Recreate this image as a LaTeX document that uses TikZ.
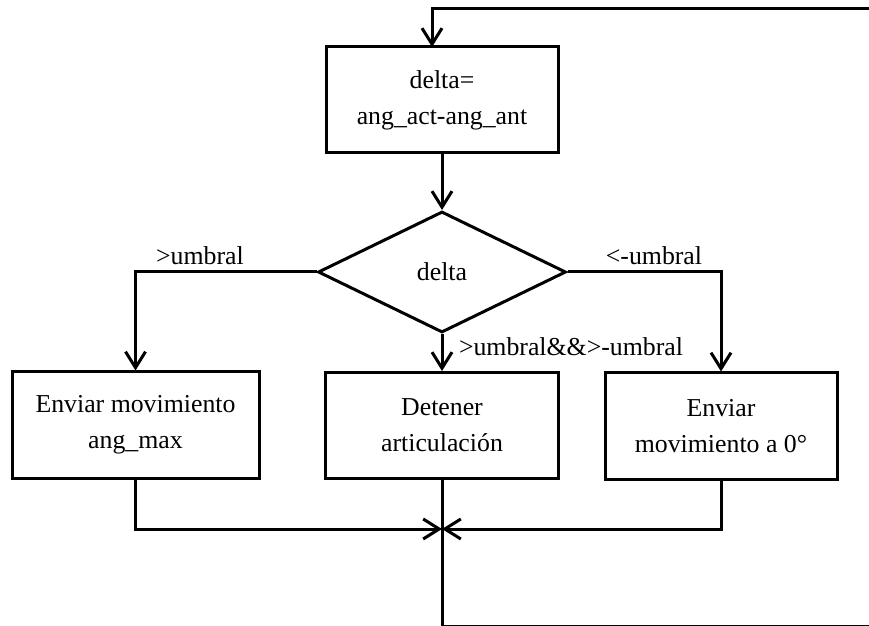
\documentclass[tikz,border=0pt]{standalone}
\usepackage{fontspec}
\setmainfont{Liberation Serif}
\usetikzlibrary{shapes.geometric,arrows.meta}

\tikzset{
  box/.style={draw, align=center, inner sep=0pt, minimum height=53pt},
  cond/.style={draw, diamond, inner sep=0pt, minimum width=124pt, minimum height=60.5pt},
  >={Straight Barb[length=8pt,width=10pt]}
}

\begin{document}
\begin{tikzpicture}[x=0.5pt, y=-0.5pt, line width=1.5pt,
  every node/.style={font=\fontsize{12.9}{18}\selectfont}]
  \useasboundingbox (0,0) rectangle (869,626);
  \clip (0,0) rectangle (869,626);

  \node[box, minimum width=116pt] (DIFF) at (442,100) {delta=\\ang\_act-ang\_ant};
  \node[cond] (DEC) at (442,272) {delta};
  \node[box, minimum width=123.5pt] (MAX) at (135.5,425) {Enviar movimiento\\ang\_max};
  \node[box, minimum width=116.5pt] (STOP) at (442,425.5) {Detener\\articulación};
  \node[box, minimum width=116pt] (ZERO) at (721,426) {Enviar\\movimiento a 0°};

  \node (GT) at (200,256) {>umbral};
  \node (LT) at (654,256) {<-umbral};
  \node (BETWEEN) at (571,347) {>umbral\&\&>-umbral};

  \coordinate (IN) at (432,47);
  \coordinate (TR) at (880,9);
  \coordinate (BR) at (880,626);
  \coordinate (JOIN) at (442,529);

  \draw[->] (DIFF) -- (DEC);
  \draw[->] (DEC.west) -| (MAX.north);
  \draw[->] (DEC.east) -| (ZERO.north);
  \draw[->] (DEC) -- (STOP);
  \draw[->] (MAX.south) |- (JOIN);
  \draw[->] (ZERO.south) |- (JOIN);
  \draw[->] (STOP.south) |- (BR) -- (TR) -| (IN);
\end{tikzpicture}
\end{document}
